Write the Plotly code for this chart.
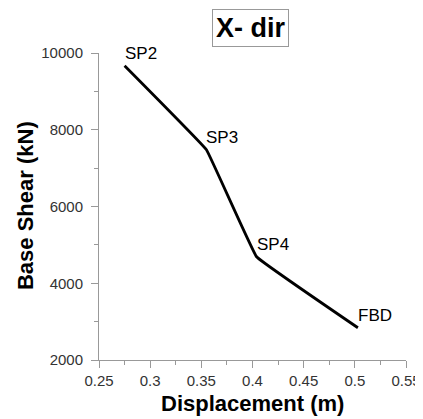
import plotly.graph_objects as go

labels = ["SP2", "SP3", "SP4", "FBD"]
displacement = [0.275, 0.355, 0.404, 0.503]
base_shear = [9670, 7480, 4690, 2840]

FONT = "Arial, Liberation Sans, Helvetica, sans-serif"

fig = go.Figure()
fig.add_trace(go.Scatter(
    x=displacement, y=base_shear, mode="lines",
    line=dict(color="black", width=2.8, shape="spline", smoothing=0.15),
    showlegend=False, hoverinfo="skip"))

for lab, xv, yv in zip(labels, displacement, base_shear):
    fig.add_annotation(x=xv, y=yv, text=lab, showarrow=False,
                       xanchor="left", yanchor="bottom", xshift=-2, yshift=1,
                       font=dict(family=FONT, size=17, color="black"))

fig.add_annotation(xref="paper", yref="paper", x=0.492, y=1.08,
                   text="<b>X- dir</b>", showarrow=False,
                   xanchor="center", yanchor="middle",
                   font=dict(family=FONT, size=27, color="black"),
                   bordercolor="#999999", borderwidth=1, borderpad=3, bgcolor="white")

# axis titles as annotations for exact placement
fig.add_annotation(xref="paper", yref="paper", x=0.5016, y=-0.143,
                   text="<b>Displacement (m)</b>", showarrow=False,
                   xanchor="center", yanchor="middle",
                   font=dict(family=FONT, size=22, color="black"))
fig.add_annotation(xref="paper", yref="paper", x=-0.241, y=0.5016,
                   text="<b>Base Shear (kN)</b>", showarrow=False, textangle=-90,
                   xanchor="center", yanchor="middle",
                   font=dict(family=FONT, size=22, color="black"))

axis_font = dict(family=FONT, size=15, color="#333333")
fig.update_xaxes(range=[0.25, 0.55], dtick=0.05, tick0=0.25, automargin=False,
                 showgrid=False, zeroline=False, showline=True,
                 linecolor="#999999", linewidth=1,
                 ticks="outside", ticklen=7, tickcolor="#999999",
                 minor=dict(ticks="outside", ticklen=4, dtick=0.025, tickcolor="#999999"),
                 tickfont=axis_font)
fig.update_yaxes(range=[2000, 10000], dtick=2000, tick0=2000, tickformat="d",
                 automargin=False, ticklabelstandoff=5,
                 showgrid=False, zeroline=False, showline=True,
                 linecolor="#999999", linewidth=1,
                 ticks="outside", ticklen=7, tickcolor="#999999",
                 minor=dict(ticks="outside", ticklen=4, dtick=1000, tickcolor="#999999"),
                 tickfont=axis_font)

# page body has an 8px default margin, so the figure is sized to fit the window
fig.update_layout(width=415, height=411,
                  margin=dict(l=91, r=17, t=45, b=59),
                  plot_bgcolor="white", paper_bgcolor="white")

fig.write_html("out.html")
